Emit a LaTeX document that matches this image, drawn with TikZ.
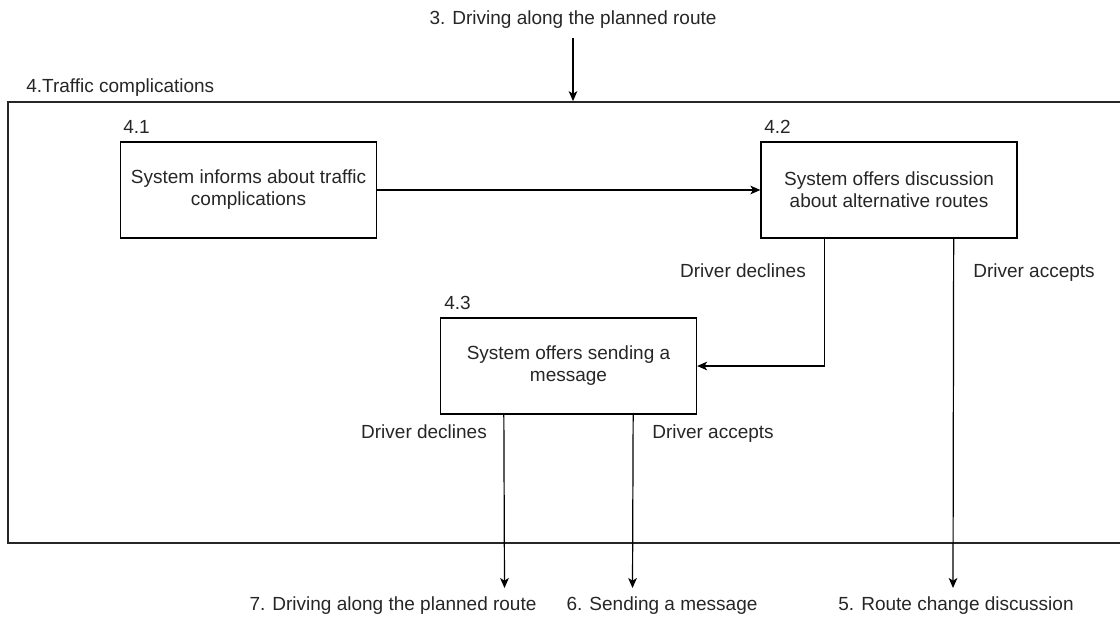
\documentclass[tikz,border=0pt]{standalone}
\usepackage{fontspec}
\setmainfont{Liberation Sans}
\usetikzlibrary{arrows.meta,fit,calc}
\begin{document}
\begin{tikzpicture}[x=0.75pt,y=-0.75pt,
  every node/.style={font=\fontsize{14.25pt}{16.5pt}\selectfont, text=black!85},
  box/.style={draw=black, line width=1pt, minimum width=192pt, minimum height=72pt, align=center, inner sep=0pt},
  lbl/.style={anchor=base, inner sep=0pt},
  lblw/.style={anchor=base west, inner sep=0pt},
  conn/.style={draw=black, line width=0.9pt, -{Stealth[length=7.5pt,width=6.5pt,inset=2pt]}},
  framestyle/.style={draw=black!85, line width=1.3pt, inner sep=0pt}]
\useasboundingbox (0,0) rectangle (1120,621);
\clip (0,0) rectangle (1120,621);

% outer frame (open to the right, beyond the picture)
\coordinate (fA) at (8,102);
\coordinate (fB) at (1160,543);
\node[framestyle, fit=(fA)(fB)] (frame) {};
\node[lblw] (n4) at (26,92) {4.Traffic complications};

% incoming
\node[lbl] (t3) at (573,24) {3. Driving along the planned route};
\draw[conn] ([yshift=-7.5pt]t3.south) -- (t3.south |- frame.north);

% boxes
\node[box] (b41) at (248.5,190) {System informs about traffic\\complications};
\node[box] (b42) at (889,190) {System offers discussion\\about alternative routes};
\node[box] (b43) at (568.5,366) {System offers sending a\\message};

\node[lblw] (n41) at (123,133) {4.1};
\node[lblw] (n42) at (764,133) {4.2};
\node[lblw] (n43) at (444,309) {4.3};

% branch labels
\node[lbl] (d42) at (743,277) {Driver declines};
\node[lbl] (a42) at (1034,277) {Driver accepts};
\node[lbl] (d43) at (424,438) {Driver declines};
\node[lbl] (a43) at (713,438) {Driver accepts};

% outgoing labels
\node[lbl] (l7) at (393,610) {7. Driving along the planned route};
\node[lbl] (l6) at (662,610) {6. Sending a message};
\node[lbl] (l5) at (956,610) {5. Route change discussion};

\coordinate (e7) at (504.5,588);
\coordinate (e6) at (632.5,588);
\coordinate (e5) at (953,588);

% connectors
\draw[conn] (b41.east) -- (b42.west);
\draw[conn] ([xshift=48pt]b42.south west) |- (b43.east);
\draw[conn] ([xshift=-48pt]b42.south east) -- (e5);
\draw[conn] ([xshift=48pt]b43.south west) -- (e7);
\draw[conn] ([xshift=-48pt]b43.south east) -- (e6);
\end{tikzpicture}
\end{document}
